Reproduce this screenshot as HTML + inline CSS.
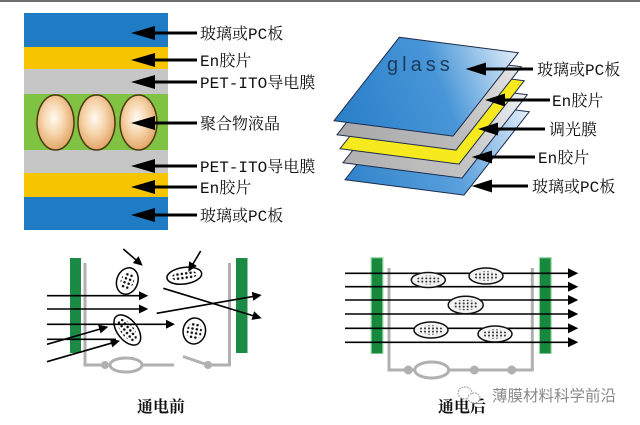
<!DOCTYPE html>
<html><head><meta charset="utf-8"><style>
html,body{margin:0;padding:0;background:#fff;}
svg{display:block}
.lb{font-family:"Liberation Mono","Noto Serif CJK SC",serif;font-size:16px;fill:#111;}
.cap{font-family:"Liberation Serif","Noto Serif CJK SC",serif;font-size:16px;font-weight:bold;fill:#111;}
.wm{font-family:"Liberation Sans","Noto Sans CJK SC",sans-serif;font-size:15.5px;fill:#8a8a8a;}
</style></head><body>
<svg width="640" height="425" viewBox="0 0 640 425" xmlns="http://www.w3.org/2000/svg">
<defs>
<radialGradient id="egg" cx="0.45" cy="0.42" r="0.62">
 <stop offset="0" stop-color="#fffaf3"/>
 <stop offset="0.45" stop-color="#f7d6ae"/>
 <stop offset="1" stop-color="#df9f5e"/>
</radialGradient>
<linearGradient id="gls" gradientUnits="userSpaceOnUse" x1="340" y1="120" x2="520" y2="50">
 <stop offset="0" stop-color="#2a7fc8"/>
 <stop offset="0.55" stop-color="#4896d8"/>
 <stop offset="1" stop-color="#e6f0fa"/>
</linearGradient>
<linearGradient id="gr1" gradientUnits="userSpaceOnUse" x1="340" y1="135" x2="522" y2="66">
 <stop offset="0" stop-color="#a8a8a8"/>
 <stop offset="0.6" stop-color="#bdbdbd"/>
 <stop offset="1" stop-color="#e8e8e8"/>
</linearGradient>
<linearGradient id="gr2" gradientUnits="userSpaceOnUse" x1="345" y1="163" x2="528" y2="95">
 <stop offset="0" stop-color="#b0b0b0"/>
 <stop offset="0.6" stop-color="#c4c4c4"/>
 <stop offset="1" stop-color="#eef2f6"/>
</linearGradient>
<linearGradient id="blu2" gradientUnits="userSpaceOnUse" x1="345" y1="180" x2="530" y2="112">
 <stop offset="0" stop-color="#2f83cb"/>
 <stop offset="0.55" stop-color="#5aa0dc"/>
 <stop offset="1" stop-color="#e4eef9"/>
</linearGradient>
<pattern id="dots" width="4.4" height="4.2" patternUnits="userSpaceOnUse"><circle cx="2.2" cy="2.1" r="1.25" fill="#111"/></pattern>
<pattern id="dots2" width="4" height="3.2" patternUnits="userSpaceOnUse"><circle cx="2" cy="1.6" r="1" fill="#333"/></pattern>
</defs>

<rect x="0" y="0" width="640" height="2" fill="#6e6e6e"/>

<!-- Left layered stack -->
<rect x="24" y="13" width="144" height="34" fill="#1f7bc4"/>
<rect x="24" y="47" width="144" height="22" fill="#f7c400"/>
<rect x="24" y="69" width="144" height="25" fill="#c6c6c6"/>
<rect x="24" y="94" width="144" height="56" fill="#80c242"/>
<rect x="24" y="150" width="144" height="23" fill="#c6c6c6"/>
<rect x="24" y="173" width="144" height="24" fill="#f7c400"/>
<rect x="24" y="197" width="144" height="33" fill="#1f7bc4"/>
<ellipse cx="55.5" cy="122.5" rx="18.5" ry="27.5" fill="url(#egg)" stroke="#4a3a10" stroke-width="1.5"/>
<ellipse cx="96.5" cy="122.5" rx="18.5" ry="27.5" fill="url(#egg)" stroke="#4a3a10" stroke-width="1.5"/>
<ellipse cx="138.5" cy="122.5" rx="18.5" ry="27.5" fill="url(#egg)" stroke="#4a3a10" stroke-width="1.5"/>

<g fill="#000" stroke="#000">
 <line x1="150" y1="33" x2="197" y2="33" stroke-width="3"/><polygon points="131,33 155,26 155,40" stroke="none"/>
 <line x1="150" y1="60" x2="197" y2="60" stroke-width="3"/><polygon points="131,60 155,53 155,67" stroke="none"/>
 <line x1="150" y1="82" x2="197" y2="82" stroke-width="3"/><polygon points="131,82 155,75 155,89" stroke="none"/>
 <line x1="150" y1="123" x2="197" y2="123" stroke-width="3"/><polygon points="131,123 155,116 155,130" stroke="none"/>
 <line x1="150" y1="166" x2="197" y2="166" stroke-width="3"/><polygon points="131,166 155,159 155,173" stroke="none"/>
 <line x1="150" y1="187" x2="197" y2="187" stroke-width="3"/><polygon points="131,187 155,180 155,194" stroke="none"/>
 <line x1="150" y1="215" x2="197" y2="215" stroke-width="3"/><polygon points="131,215 155,208 155,222" stroke="none"/>
</g>
<text class="lb" x="200" y="39">玻璃或PC板</text>
<text class="lb" x="200" y="66">En胶片</text>
<text class="lb" x="200" y="88">PET-ITO导电膜</text>
<text class="lb" x="200" y="129">聚合物液晶</text>
<text class="lb" x="200" y="172">PET-ITO导电膜</text>
<text class="lb" x="200" y="193">En胶片</text>
<text class="lb" x="200" y="221">玻璃或PC板</text>

<!-- Right exploded stack -->
<g stroke="#1c2c4c" stroke-width="1">
 <polygon points="410.3,96.3 529.3,111.7 464,195.1 345,179.7" fill="url(#blu2)"/>
 <polygon points="408.3,79.3 527.3,94.7 462,178.1 343,162.7" fill="url(#gr2)"/>
 <polygon points="405.3,65.3 524.3,80.7 459,164.1 340,148.7" fill="#f6ea1e"/>
 <polygon points="402.3,51.3 521.3,66.7 456,150.1 337,134.7" fill="url(#gr1)"/>
 <polygon points="399.3,37.3 518.3,52.7 453,136.1 334,120.7" fill="url(#gls)"/>
</g>
<text x="387" y="71" font-family="Liberation Sans, sans-serif" font-size="20" letter-spacing="4" fill="#1d3a5c">glass</text>

<g fill="#000" stroke="#000">
 <line x1="480" y1="69" x2="533" y2="69" stroke-width="3"/><polygon points="465.7,69 486,62.5 486,75.5" stroke="none"/>
 <line x1="500" y1="100" x2="550" y2="100" stroke-width="3"/><polygon points="485,100 505,93.5 505,106.5" stroke="none"/>
 <line x1="493" y1="129" x2="545" y2="129" stroke-width="3"/><polygon points="478,129 498,122.5 498,135.5" stroke="none"/>
 <line x1="486" y1="157" x2="535" y2="157" stroke-width="3"/><polygon points="471.7,157 492,150.5 492,163.5" stroke="none"/>
 <line x1="486" y1="186" x2="528" y2="186" stroke-width="3"/><polygon points="471.7,186 492,179.5 492,192.5" stroke="none"/>
</g>
<text class="lb" x="537" y="75">玻璃或PC板</text>
<text class="lb" x="552" y="106">En胶片</text>
<text class="lb" x="549" y="135">调光膜</text>
<text class="lb" x="538" y="163">En胶片</text>
<text class="lb" x="532" y="192">玻璃或PC板</text>

<!-- Bottom-left: before power -->
<rect x="70" y="258" width="11" height="95" fill="#1b8a44"/>
<rect x="236" y="258" width="11.5" height="95" fill="#1b8a44"/>
<g stroke="#b0b0b0" stroke-width="3" fill="none">
 <polyline points="85,263 85,365 110,365"/>
 <ellipse cx="126" cy="365" rx="16" ry="7"/>
 <line x1="142" y1="365" x2="174" y2="365"/>
 <line x1="183" y1="356.5" x2="208" y2="365"/>
 <polyline points="208,365 229.5,365 229.5,263"/>
</g>
<circle cx="105" cy="365" r="4" fill="#b0b0b0"/>
<circle cx="208" cy="365" r="4" fill="#b0b0b0"/>

<g stroke="#000" stroke-width="1.5">
 <g transform="translate(127.3,281) rotate(20)"><ellipse rx="10.5" ry="13.5" fill="#fff"/><ellipse rx="6.5" ry="9.5" fill="url(#dots)" stroke="none"/></g>
 <g transform="translate(184.3,275.7) rotate(-8)"><ellipse rx="17.5" ry="8.3" fill="#fff"/><ellipse rx="12.5" ry="5" fill="url(#dots)" stroke="none"/></g>
 <g transform="translate(127.3,330) rotate(52)"><ellipse rx="17.5" ry="10" fill="#fff"/><ellipse rx="13" ry="6.5" fill="url(#dots)" stroke="none"/></g>
 <g transform="translate(194.3,331) rotate(10)"><ellipse rx="11.2" ry="13" fill="#fff"/><ellipse rx="7.5" ry="9" fill="url(#dots)" stroke="none"/></g>
</g>

<g stroke="#000" stroke-width="1.6" fill="#000">
 <line x1="47" y1="295.7" x2="140" y2="295.7"/><polygon points="148.3,295.7 139,291.2 139,300.2" stroke="none"/>
 <line x1="47" y1="309" x2="140" y2="309"/><polygon points="148.3,309 139,304.5 139,313.5" stroke="none"/>
 <line x1="47" y1="324.3" x2="167" y2="324.3"/><polygon points="175,324.3 166,319.8 166,328.8" stroke="none"/>
 <line x1="47" y1="339.3" x2="116" y2="339.3"/>
 <line x1="47" y1="344.3" x2="102" y2="328.5"/><polygon points="108.3,326.7 98.1,324.8 100.6,333.4" stroke="none"/>
 <line x1="47" y1="361.7" x2="113" y2="342.7"/><polygon points="120,340.7 109.8,338.8 112.3,347.4" stroke="none"/>
 <line x1="123.3" y1="249" x2="137" y2="260.8"/><polygon points="142.7,265.7 138.6,256.2 132.8,263" stroke="none"/>
 <line x1="200.7" y1="251" x2="192" y2="265.5"/><polygon points="188.3,271.7 196.8,265.9 189.1,261.3" stroke="none"/>
 <line x1="163.3" y1="288.3" x2="254" y2="316"/><polygon points="261.7,318.3 254.1,311.3 251.5,319.9" stroke="none"/>
 <line x1="156.7" y1="313.3" x2="254" y2="296.3"/><polygon points="261.7,295 251.8,291.9 253.3,300.8" stroke="none"/>
</g>
<text class="cap" x="137" y="412">通电前</text>

<!-- Bottom-right: after power -->
<rect x="370.5" y="257" width="13" height="97" fill="#9fdcaa"/>
<rect x="371.7" y="258.3" width="10.6" height="95" fill="#17893f"/>
<rect x="538.8" y="257" width="13" height="97" fill="#9fdcaa"/>
<rect x="540" y="258.3" width="10.6" height="95" fill="#17893f"/>
<g stroke="#b0b0b0" stroke-width="3" fill="none">
 <polyline points="389,268 389,370 532.3,370 532.3,268"/>
</g>
<ellipse cx="431.7" cy="370" rx="17" ry="8" fill="#fff" stroke="#b0b0b0" stroke-width="3"/>
<circle cx="408.3" cy="370" r="4.5" fill="#b0b0b0"/>
<circle cx="474.3" cy="370" r="4.5" fill="#b0b0b0"/>
<circle cx="511.7" cy="370" r="4.5" fill="#b0b0b0"/>

<g stroke="#000" stroke-width="1.6" fill="#000">
 <line x1="345" y1="273.3" x2="570" y2="273.3"/><polygon points="578.3,273.3 568,268.3 568,278.3" stroke="none"/>
 <line x1="345" y1="286.7" x2="570" y2="286.7"/><polygon points="578.3,286.7 568,281.7 568,291.7" stroke="none"/>
 <line x1="345" y1="300" x2="570" y2="300"/><polygon points="578.3,300 568,295 568,305" stroke="none"/>
 <line x1="345" y1="314" x2="570" y2="314"/><polygon points="578.3,314 568,309 568,319" stroke="none"/>
 <line x1="345" y1="328.3" x2="570" y2="328.3"/><polygon points="578.3,328.3 568,323.3 568,333.3" stroke="none"/>
 <line x1="345" y1="342.3" x2="570" y2="342.3"/><polygon points="578.3,342.3 568,337.3 568,347.3" stroke="none"/>
</g>
<g stroke="#111" stroke-width="1.5">
 <g transform="translate(428.3,280)"><ellipse rx="17" ry="7.5" fill="#f4f4f4"/><ellipse rx="12" ry="4.5" fill="url(#dots2)" stroke="none"/></g>
 <g transform="translate(486,276)"><ellipse rx="17" ry="8" fill="#f4f4f4"/><ellipse rx="12" ry="4.8" fill="url(#dots2)" stroke="none"/></g>
 <g transform="translate(465.7,305)"><ellipse rx="17.5" ry="8.7" fill="#f4f4f4"/><ellipse rx="12.5" ry="5.3" fill="url(#dots2)" stroke="none"/></g>
 <g transform="translate(431,330)"><ellipse rx="17" ry="8" fill="#f4f4f4"/><ellipse rx="12" ry="4.8" fill="url(#dots2)" stroke="none"/></g>
 <g transform="translate(495,334)"><ellipse rx="17" ry="8" fill="#f4f4f4"/><ellipse rx="12" ry="4.8" fill="url(#dots2)" stroke="none"/></g>
</g>
<text class="cap" x="438" y="412">通电后</text>

<!-- watermark -->
<g fill="#fff" stroke="#9a9a9a" stroke-width="1.2" stroke-dasharray="1.5 1.2">
 <ellipse cx="465" cy="393" rx="7" ry="6"/>
 <ellipse cx="474" cy="398" rx="6" ry="5"/>
</g>
<text class="wm" x="492" y="401">薄膜材料科学前沿</text>
</svg>
</body></html>
